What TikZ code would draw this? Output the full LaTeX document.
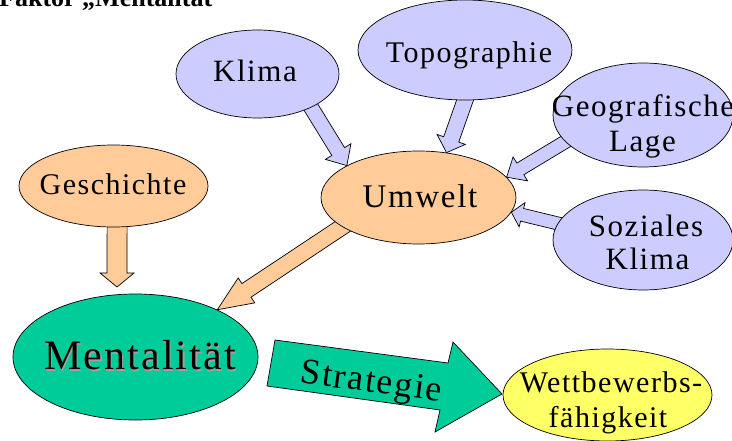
\documentclass[tikz,border=0pt]{standalone}
\usepackage{fontspec}
\setmainfont{Liberation Serif}
\newfontfamily\spaced[LetterSpace=5]{Liberation Serif}
\usetikzlibrary{shapes.geometric,calc,backgrounds}

\definecolor{lav}{HTML}{CCCCFF}
\definecolor{peach}{HTML}{FFCC99}
\definecolor{mint}{HTML}{00CC99}
\definecolor{lemon}{HTML}{FFFF66}
\definecolor{shade}{HTML}{A0A0A0}

\tikzset{
  blob/.style={ellipse, draw=black, line width=0.7pt, inner sep=0pt},
  lbl/.style={inner sep=0pt, anchor=base, font=\spaced\fontsize{31}{35}\selectfont},
  outline/.style={draw=black, line width=0.7pt, line join=miter}
}

% block arrow: #1 start, #2 tip, #3 shaft half width, #4 head half width,
% #5 head length, #6 fill colour
\newcommand{\blockarrow}[6]{%
  \coordinate (ba-b) at ($(#2)!#5!(#1)$);
  \filldraw[outline, fill=#6]
    ($(#1)!#3!90:(#2)$) -- ($(ba-b)!#3!-90:(#1)$) -- ($(ba-b)!#4!-90:(#1)$)
    -- (#2) -- ($(ba-b)!#4!90:(#1)$) -- ($(ba-b)!#3!90:(#1)$)
    -- ($(#1)!#3!-90:(#2)$) -- cycle;}

\begin{document}
\begin{tikzpicture}[x=1pt, y=-1pt]
\useasboundingbox (0,0) rectangle (732,441);

% heading (partly above the page edge)
\node[anchor=base west, inner sep=0pt, font=\bfseries\fontsize{26}{30}\selectfont]
  (title) at (-1,6.5) {Faktor „Mentalität“};

% ellipses
\node[blob, fill=lav,   minimum width=163, minimum height=88]  (klima)  at (257.5,74) {};
\node[blob, fill=lav,   minimum width=214, minimum height=100] (topo)   at (465,50) {};
\node[blob, fill=lav,   minimum width=180, minimum height=104] (geo)    at (643,115) {};
\node[blob, fill=lav,   minimum width=180, minimum height=100] (soz)    at (643,240) {};
\node[blob, fill=peach, minimum width=195, minimum height=93]  (umwelt) at (418.5,197.5) {};
\node[blob, fill=peach, minimum width=189, minimum height=82]  (gesch)  at (113.5,186) {};
\node[blob, fill=mint,  minimum width=245, minimum height=126] (ment)   at (135.5,357) {};
\node[blob, fill=lemon, minimum width=209, minimum height=92]  (wett)   at (607.5,395) {};

% labels
\node[lbl] (klima-t)  at (255,82)  {Klima};
\node[lbl, font=\spaced\fontsize{30}{35}\selectfont] (topo-t) at (469,63) {Topographie};
\node[lbl] (geo-t1)   at (643,117) {Geografische};
\node[lbl] (geo-t2)   at (642.5,152) {Lage};
\node[lbl] (soz-t1)   at (646,237) {Soziales};
\node[lbl] (soz-t2)   at (647.5,270) {Klima};
\node[lbl, font=\spaced\fontsize{33}{38}\selectfont] (umwelt-t) at (420,208) {Umwelt};
\node[lbl, font=\spaced\fontsize{30}{35}\selectfont] (gesch-t)  at (113,195) {Geschichte};
\node[lbl, font=\spaced\fontsize{42}{48}\selectfont, text=shade] (ment-s) at (141.5,371.5) {Mentalität};
\node[lbl, font=\spaced\fontsize{42}{48}\selectfont] (ment-t) at (140,370) {Mentalität};
\node[lbl, font=\spaced\fontsize{30}{35}\selectfont] (wett-t1) at (611,392) {Wettbewerbs-};
\node[lbl, font=\spaced\fontsize{30}{35}\selectfont] (wett-t2) at (608,427) {fähigkeit};

% arrow end points
\coordinate (a1s) at ($(klima.-32)!-6pt!(umwelt.156)$);
\coordinate (a1t) at (umwelt.156);
\coordinate (a2s) at ($(topo.-90)!-6pt!(umwelt.58)$);
\coordinate (a2t) at (umwelt.58);
\coordinate (a3s) at ($(geo.199)!-6pt!(umwelt.13)$);
\coordinate (a3t) at (umwelt.13);
\coordinate (a4s) at ($(soz.169)!-6pt!(umwelt.-9)$);
\coordinate (a4t) at (umwelt.-9);
\coordinate (a5s) at ($(umwelt.201)!-6pt!(ment.30)$);
\coordinate (a5t) at (ment.30);
\coordinate (a6t) at ($(ment.center)+(-18.5,-70)$);
\coordinate (a6s) at ($(gesch.-85)!-6pt!(a6t)$);

% block arrows behind the ellipses
\begin{scope}[on background layer]
  \blockarrow{a1s}{a1t}{7.5pt}{15pt}{16.5pt}{lav}
  \blockarrow{a2s}{a2t}{8pt}{15pt}{14pt}{lav}
  \blockarrow{a3s}{a3t}{6.8pt}{14pt}{16pt}{lav}
  \blockarrow{a4s}{a4t}{6.5pt}{12.5pt}{11pt}{lav}
  \blockarrow{a5s}{a5t}{8.2pt}{15pt}{35pt}{peach}
  \blockarrow{a6s}{a6t}{10pt}{17pt}{14pt}{peach}
\end{scope}

% strategy arrow
\filldraw[outline, fill=mint]
  (275,340) -- (448,363) -- (453,342) -- (502,394) -- (435,432)
  -- (440,410) -- (267,386) -- cycle;
\node[lbl, font=\spaced\fontsize{36}{40}\selectfont, rotate=-7.5] (strat-t) at (370,392) {Strategie};
\end{tikzpicture}
\end{document}
